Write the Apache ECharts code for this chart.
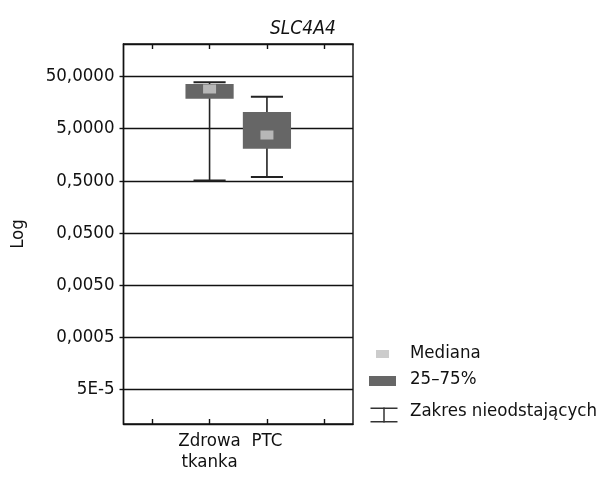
<!DOCTYPE html>
<html>
<head>
<meta charset="utf-8">
<script src="https://cdn.jsdelivr.net/npm/echarts@6/dist/echarts.min.js"></script>
<style>html,body{margin:0;padding:0;background:#fff;}#c{width:605px;height:479px;}</style>
</head>
<body>
<div id="c"></div>
<script>
// ---- data ----
const categories = ['Zdrowa tkanka', 'PTC'];
const whiskerMin = [0.51, 0.59];
const q1 = [18.8, 2.07];
const median = [28.8, 3.78];
const q3 = [35.9, 10.4];
const whiskerMax = [38.7, 20.5];
const tickValues = [5e-5, 0.0005, 0.005, 0.05, 0.5, 5, 50];
const tickLabels = ['5E-5', '0,0005', '0,0050', '0,0500', '0,5000', '5,0000', '50,0000'];
const axisMinValue = 1.09e-5;
const axisMaxValue = 210;

const FONT = "'DejaVu Sans Condensed', 'Liberation Sans', sans-serif";
const FS = 18.5;
const lg = v => Math.log10(v);
const xCats = [''].concat(categories.map(c => c.replace(' ', '\n')), ['']);

const boxData = categories.map((c, i) => [i + 1, lg(q1[i]), lg(q3[i])]);
const whiskerData = categories.map((c, i) => [i + 1, lg(whiskerMin[i]), lg(whiskerMax[i])]);
const medianData = categories.map((c, i) => [i + 1, lg(median[i])]);

function labelFor(v) {
  let best = 0, bd = Infinity;
  tickValues.forEach((t, i) => { const d = Math.abs(lg(t) - v); if (d < bd) { bd = d; best = i; } });
  return tickLabels[best];
}

const chart = echarts.init(document.getElementById('c'), null, {renderer: 'canvas'});
chart.setOption({
  animation: false,
  backgroundColor: '#fff',
  title: {
    text: 'SLC4A4', left: 265, top: 15,
    textStyle: {fontFamily: FONT, fontSize: 19, fontStyle: 'italic', fontWeight: 'normal', color: '#111'}
  },
  grid: {left: 123.5, right: 252, top: 44, bottom: 55, show: true, borderColor: '#111', borderWidth: 1.4, backgroundColor: 'transparent'},
  xAxis: [{
    type: 'category', data: xCats, position: 'bottom',
    axisLine: {show: true, onZero: false, lineStyle: {color: '#111', width: 1.4}},
    axisTick: {show: true, inside: true, alignWithLabel: true, length: 5, lineStyle: {color: '#111', width: 1.4}},
    axisLabel: {fontFamily: FONT, fontSize: FS, color: '#111', margin: 7, lineHeight: 21, interval: 0},
    splitLine: {show: false}
  }, {
    type: 'category', data: xCats, position: 'top',
    axisLine: {show: true, onZero: false, lineStyle: {color: '#111', width: 1.4}},
    axisTick: {show: true, inside: true, alignWithLabel: true, length: 5, lineStyle: {color: '#111', width: 1.4}},
    axisLabel: {show: false},
    splitLine: {show: false}
  }],
  yAxis: {
    type: 'value', min: lg(axisMinValue), max: lg(axisMaxValue),
    name: 'Log', nameLocation: 'middle', nameGap: 96,
    nameTextStyle: {fontFamily: FONT, fontSize: FS, color: '#111'},
    axisLine: {show: true, onZero: false, lineStyle: {color: '#111', width: 1.4}},
    axisTick: {show: true, inside: false, length: 4, customValues: tickValues.map(lg), lineStyle: {color: '#111', width: 1.4}},
    axisLabel: {fontFamily: FONT, fontSize: FS, color: '#111', margin: 9, customValues: tickValues.map(lg), formatter: v => labelFor(v)},
    splitLine: {show: false}
  },
  series: [{
    name: 'Zakres nieodstających', type: 'custom', z: 2,
    data: whiskerData,
    renderItem: function (params, api) {
      const x = api.value(0);
      const lo = api.coord([x, api.value(1)]);
      const hi = api.coord([x, api.value(2)]);
      const hw = api.size([1, 0])[0] * 0.28;
      const st = {stroke: '#222', lineWidth: 1.6};
      return {type: 'group', children: [
        {type: 'line', shape: {x1: lo[0], y1: lo[1], x2: hi[0], y2: hi[1]}, style: st},
        {type: 'line', shape: {x1: lo[0] - hw, y1: lo[1], x2: lo[0] + hw, y2: lo[1]}, style: {stroke: '#222', lineWidth: 2}},
        {type: 'line', shape: {x1: hi[0] - hw, y1: hi[1], x2: hi[0] + hw, y2: hi[1]}, style: {stroke: '#222', lineWidth: 2}}
      ]};
    },
    markLine: {
      silent: true, symbol: 'none', label: {show: false}, z: 1,
      lineStyle: {color: '#111', width: 1.4, type: 'solid'},
      data: tickValues.map(t => ({yAxis: lg(t)}))
    }
  }, {
    name: '25–75%', type: 'custom', z: 3,
    data: boxData,
    renderItem: function (params, api) {
      const x = api.value(0);
      const a = api.coord([x, api.value(1)]);
      const b = api.coord([x, api.value(2)]);
      const w = api.size([1, 0])[0] * 0.84;
      return {type: 'rect', shape: {x: a[0] - w / 2, y: b[1], width: w, height: a[1] - b[1]}, style: {fill: '#666'}};
    }
  }, {
    name: 'Mediana', type: 'scatter', z: 4,
    data: medianData, symbol: 'rect', symbolSize: [13, 9],
    itemStyle: {color: '#ccc'}
  }],
  graphic: [
    {type: 'rect', left: 376, top: 350, shape: {width: 13, height: 8}, style: {fill: '#ccc'}},
    {type: 'text', left: 410, top: 344, style: {text: 'Mediana', font: FS + 'px ' + FONT, fill: '#111'}},
    {type: 'rect', left: 369, top: 376, shape: {width: 27, height: 10}, style: {fill: '#666'}},
    {type: 'text', left: 410, top: 370, style: {text: '25–75%', font: FS + 'px ' + FONT, fill: '#111'}},
    {type: 'group', left: 368, top: 405, children: [
      {type: 'line', shape: {x1: 0, y1: 0.75, x2: 27, y2: 0.75}, style: {stroke: '#333', lineWidth: 1.5}},
      {type: 'line', shape: {x1: 13.5, y1: 0, x2: 13.5, y2: 15}, style: {stroke: '#333', lineWidth: 1.5}},
      {type: 'line', shape: {x1: 0, y1: 14.25, x2: 27, y2: 14.25}, style: {stroke: '#333', lineWidth: 1.5}}
    ]},
    {type: 'text', left: 410, top: 402, style: {text: 'Zakres nieodstających', font: FS + 'px ' + FONT, fill: '#111'}}
  ]
});
</script>
</body>
</html>
